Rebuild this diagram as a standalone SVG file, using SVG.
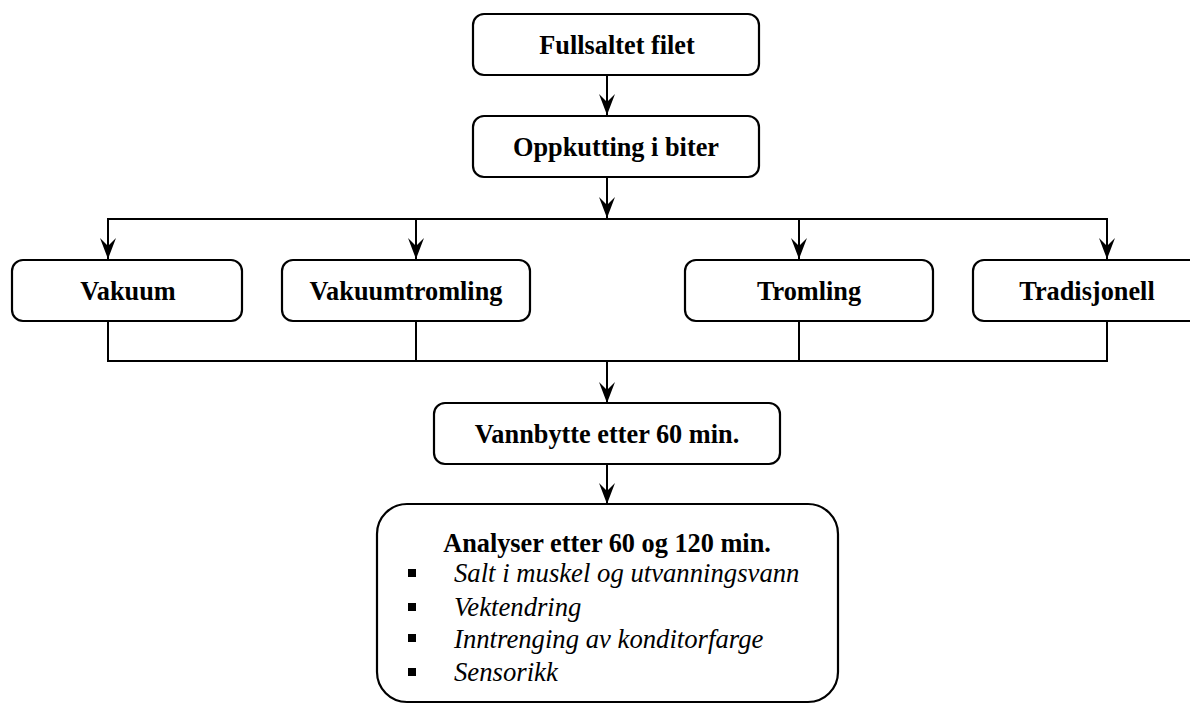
<svg xmlns="http://www.w3.org/2000/svg" width="1190" height="704" viewBox="0 0 1190 704">
<style>
.box{fill:#fff;stroke:#000;stroke-width:2.2}
.lbl{font-family:'Liberation Serif',serif;font-weight:700;font-size:26.3px;text-anchor:middle;fill:#000}
.it{font-family:'Liberation Serif',serif;font-style:italic;font-size:26.7px;fill:#000}
.con{fill:none;stroke:#000;stroke-width:2}
</style>
<defs>
<marker id="ah" markerUnits="userSpaceOnUse" markerWidth="24" markerHeight="20" viewBox="-22 -10 24 20" refX="0" refY="0" orient="auto">
<path d="M0,0 L-21,-8 L-13,0 L-21,8 Z" fill="#000"/>
</marker>
</defs>
<rect width="1190" height="704" fill="#fff"/>
<g id="connectors">
<line class="con" x1="607" y1="75" x2="607" y2="115" marker-end="url(#ah)"/>
<line class="con" x1="607" y1="177" x2="607" y2="218" marker-end="url(#ah)"/>
<polyline class="con" points="108,259 108,219 1107,219 1107,259"/>
<line class="con" x1="108" y1="230" x2="108" y2="259" marker-end="url(#ah)"/>
<line class="con" x1="416" y1="219" x2="416" y2="259" marker-end="url(#ah)"/>
<line class="con" x1="799" y1="219" x2="799" y2="259" marker-end="url(#ah)"/>
<line class="con" x1="1107" y1="230" x2="1107" y2="259" marker-end="url(#ah)"/>
<polyline class="con" points="108,321 108,361 1107,361 1107,321"/>
<line class="con" x1="416" y1="321" x2="416" y2="361"/>
<line class="con" x1="799" y1="321" x2="799" y2="361"/>
<line class="con" x1="607" y1="361" x2="607" y2="403" marker-end="url(#ah)"/>
<line class="con" x1="607" y1="464" x2="607" y2="504" marker-end="url(#ah)"/>
</g>
<g id="n1">
<rect class="box" x="473" y="14" width="286" height="61" rx="11"/>
<text class="lbl" x="617" y="54">Fullsaltet filet</text>
</g>
<g id="n2">
<rect class="box" x="473" y="116" width="286" height="61" rx="11"/>
<text class="lbl" x="616" y="156">Oppkutting i biter</text>
</g>
<g id="n3">
<rect class="box" x="12" y="260" width="230" height="61" rx="11"/>
<text class="lbl" x="128" y="300">Vakuum</text>
</g>
<g id="n4">
<rect class="box" x="282" y="260" width="248" height="61" rx="11"/>
<text class="lbl" x="406" y="300">Vakuumtromling</text>
</g>
<g id="n5">
<rect class="box" x="685" y="260" width="248" height="61" rx="11"/>
<text class="lbl" x="809" y="300">Tromling</text>
</g>
<g id="n6">
<rect class="box" x="973" y="260" width="240" height="61" rx="11"/>
<text class="lbl" x="1087" y="300">Tradisjonell</text>
</g>
<g id="n7">
<rect class="box" x="434" y="403" width="346" height="61" rx="11"/>
<text class="lbl" x="607" y="443">Vannbytte etter 60 min.</text>
</g>
<g id="n8">
<rect class="box" x="377" y="504" width="461" height="198" rx="30"/>
<text class="lbl" x="607" y="552">Analyser etter 60 og 120 min.</text>
<rect x="408" y="569" width="8" height="8" fill="#000"/>
<rect x="408" y="603" width="8" height="8" fill="#000"/>
<rect x="408" y="634" width="8" height="8" fill="#000"/>
<rect x="408" y="668" width="8" height="8" fill="#000"/>
<text class="it" x="454" y="582">Salt i muskel og utvanningsvann</text>
<text class="it" x="454" y="616">Vektendring</text>
<text class="it" x="454" y="648">Inntrenging av konditorfarge</text>
<text class="it" x="454" y="681">Sensorikk</text>
</g>
</svg>
